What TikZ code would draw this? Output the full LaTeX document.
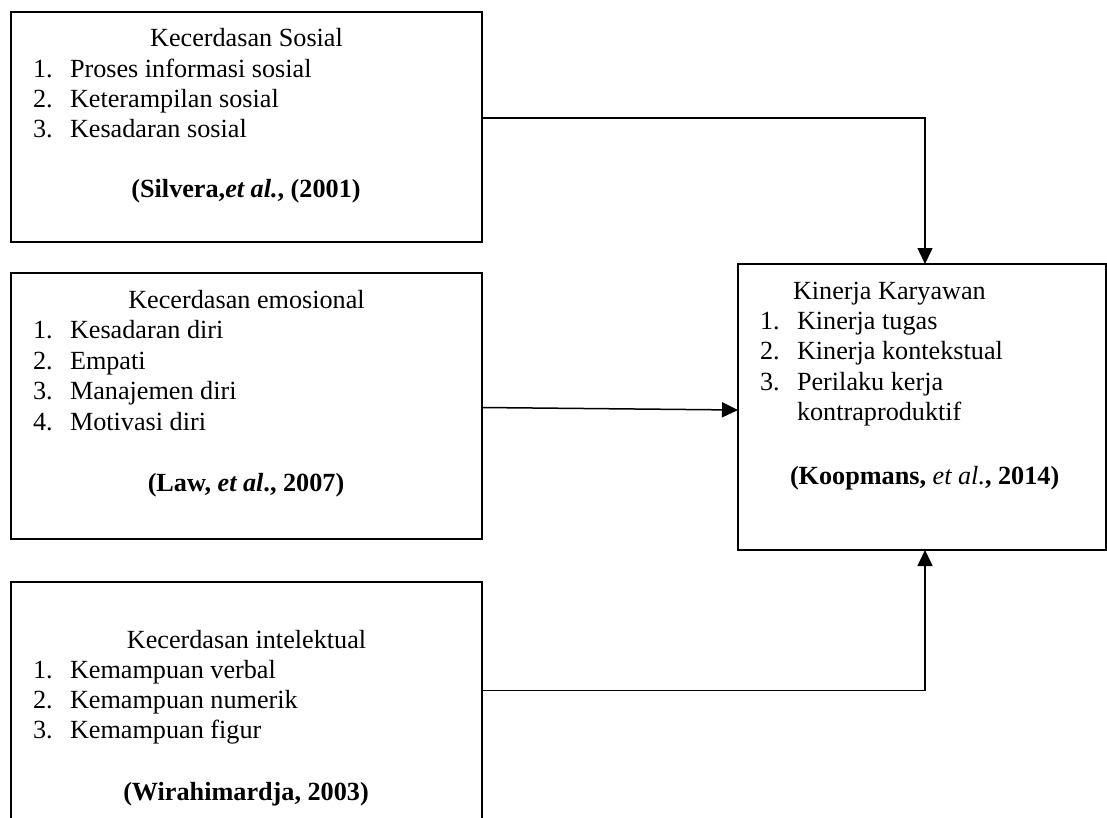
\documentclass[tikz,border=0pt]{standalone}
\usepackage{fontspec}
\setmainfont{Liberation Serif}
\usetikzlibrary{arrows.meta}
\tikzset{
  boxnode/.style={draw, line width=2.6pt, outer sep=0pt, inner sep=0pt, anchor=north west},
  txt/.style={inner sep=0pt, outer sep=0pt, anchor=base west, font=\fontsize{26.2}{30.3}\selectfont},
  ctxt/.style={txt, anchor=base},
  conn/.style={line width=1.5pt, -{Triangle[length=16pt, width=15pt]}},
}
\begin{document}
\begin{tikzpicture}[x=1pt, y=-1pt]
\useasboundingbox (0,0) rectangle (1107,817);
\clip (0,0) rectangle (1107,817);
\fill[white] (0,0) rectangle (1107,817);

% boxes
\node[boxnode, minimum width=471pt, minimum height=230pt] (b1) at (11,12) {};
\node[boxnode, minimum width=471pt, minimum height=266pt] (b2) at (11,273) {};
\node[boxnode, minimum width=471pt, minimum height=260pt] (b3) at (11,582) {};
\node[boxnode, minimum width=368pt, minimum height=286pt] (b4) at (738,264) {};

% box 1 text
\node[ctxt] (t1h) at (246.5,46.5) {Kecerdasan Sosial};
\node[txt] (t1n1) at (33,77) {1.};
\node[txt] (t1i1) at (70,77) {Proses informasi sosial};
\node[txt] (t1n2) at (33,107.2) {2.};
\node[txt] (t1i2) at (70,107.2) {Keterampilan sosial};
\node[txt] (t1n3) at (33,137.5) {3.};
\node[txt] (t1i3) at (70,137.5) {Kesadaran sosial};
\node[ctxt] (t1c) at (246,197) {\textbf{(Silvera,\textit{et al.}, (2001)}};

% box 2 text
\node[ctxt] (t2h) at (246.5,308) {Kecerdasan emosional};
\node[txt] (t2n1) at (33,338.5) {1.};
\node[txt] (t2i1) at (70,338.5) {Kesadaran diri};
\node[txt] (t2n2) at (33,369) {2.};
\node[txt] (t2i2) at (70,369) {Empati};
\node[txt] (t2n3) at (33,399.5) {3.};
\node[txt] (t2i3) at (70,399.5) {Manajemen diri};
\node[txt] (t2n4) at (33,430) {4.};
\node[txt] (t2i4) at (70,430) {Motivasi diri};
\node[ctxt] (t2c) at (246,491) {\textbf{(Law, \textit{et al}., 2007)}};

% box 3 text
\node[ctxt] (t3h) at (246.5,648) {Kecerdasan intelektual};
\node[txt] (t3n1) at (33,678) {1.};
\node[txt] (t3i1) at (70,678) {Kemampuan verbal};
\node[txt] (t3n2) at (33,708.3) {2.};
\node[txt] (t3i2) at (70,708.3) {Kemampuan numerik};
\node[txt] (t3n3) at (33,738.6) {3.};
\node[txt] (t3i3) at (70,738.6) {Kemampuan figur};
\node[ctxt] (t3c) at (246,800) {\textbf{(Wirahimardja, 2003)}};

% box 4 text
\node[txt] (t4h) at (793,299) {Kinerja Karyawan};
\node[txt] (t4n1) at (760,329.3) {1.};
\node[txt] (t4i1) at (797,329.3) {Kinerja tugas};
\node[txt] (t4n2) at (760,359.6) {2.};
\node[txt] (t4i2) at (797,359.6) {Kinerja kontekstual};
\node[txt] (t4n3) at (760,390) {3.};
\node[txt] (t4i3) at (797,390) {Perilaku kerja};
\node[txt] (t4i3b) at (797,420.3) {kontraproduktif};
\node[txt] (t4c) at (790,484) {\textbf{(Koopmans, }\textit{et al.}\textbf{, 2014)}};

% connectors
\draw[conn] ([yshift=9pt]b1.east) -| ([xshift=3pt]b4.north);
\draw[conn] ([yshift=-1.5pt]b2.east) -- ([yshift=-3pt]b4.west);
\draw[conn] ([yshift=21.3pt]b3.east) -| ([xshift=3pt]b4.south);
\end{tikzpicture}
\end{document}
